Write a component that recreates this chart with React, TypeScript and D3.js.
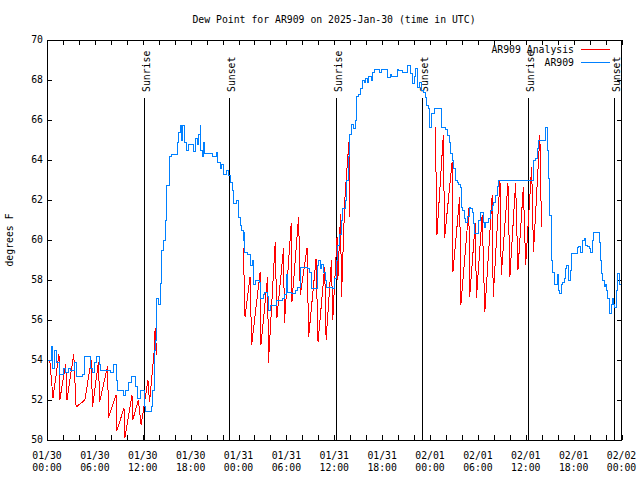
import * as d3 from 'd3';
import React from 'react';

// hours after 2025-01-30 00:00 UTC
const startMs = Date.UTC(2025, 0, 30);
const HOUR = 3600 * 1000;

const sunHours = [12.2, 22.87, 36.17, 47.01, 60.26, 71.05];
const sunLabels = ['Sunrise', 'Sunset', 'Sunrise', 'Sunset', 'Sunrise', 'Sunset'];

const yTicks = [50, 52, 54, 56, 58, 60, 62, 64, 66, 68, 70];

// AR909 Analysis (red), three runs
const analysisHours1 = [0.35, 0.75, 1.5, 1.6, 2.35, 2.5, 3.35, 3.65, 4.75, 5.55, 5.7, 6.45, 6.6, 7.6, 7.7, 8.65, 8.75, 9.65, 9.75, 10.65, 10.75, 11.45, 11.8, 12.65, 12.85, 13.45, 13.55, 13.75];
const analysisValues1 = [54.0, 52.1, 54.3, 52.0, 53.8, 52.0, 54.3, 51.65, 52.0, 54.0, 51.65, 53.9, 51.9, 53.7, 51.1, 52.25, 50.45, 51.6, 50.1, 52.25, 51.0, 52.0, 50.75, 53.0, 51.9, 54.5, 55.6, 54.25];

const analysisHours2 = [24.61, 24.82, 25.45, 25.65, 26.71, 26.81, 27.65, 27.75, 28.6, 28.81, 29.65, 29.75, 30.61, 30.7, 31.53, 31.75, 32.59, 32.79, 33.72, 33.97, 34.8, 34.98, 35.65, 35.81, 36.35, 36.45, 36.79, 36.91, 37.32, 37.83, 37.95];
const analysisValues2 = [59.6, 56.15, 58.15, 54.75, 58.4, 54.75, 58.15, 53.85, 59.9, 56.1, 59.6, 55.85, 60.85, 56.9, 61.15, 57.25, 59.6, 55.15, 59.05, 54.9, 58.65, 55.0, 59.0, 56.0, 60.15, 58.0, 61.3, 57.15, 62.0, 64.9, 61.15];

const analysisHours3 = [48.67, 48.87, 49.67, 49.83, 50.77, 50.87, 51.72, 51.87, 52.87, 52.97, 53.67, 53.82, 54.54, 54.87, 55.8, 55.92, 56.77, 56.93, 57.77, 58.01, 58.73, 59.02, 59.7, 59.99, 60.74, 60.97, 61.77, 61.97];
const analysisValues3 = [65.65, 60.25, 65.25, 60.1, 63.9, 58.4, 62.15, 56.75, 61.6, 57.15, 60.85, 57.1, 61.25, 56.4, 62.25, 57.15, 63.0, 58.25, 62.85, 58.15, 62.85, 58.5, 62.65, 58.75, 63.65, 59.4, 65.25, 60.65];

// AR909 station (blue)
const stationHours = [
  0.0, 0.38, 0.59, 0.71, 0.88, 1.22, 1.51, 2.05, 2.35, 2.65, 3.0, 3.45, 3.75, 4.45, 4.7, 5.2, 5.45, 5.75, 5.95, 6.15,
  6.55, 6.75, 8.0, 8.35, 8.65, 8.85, 9.55, 9.85, 10.25, 10.55, 10.95, 11.15, 11.35, 11.7, 12.2, 12.4, 13.05, 13.25, 13.45, 13.6,
  13.72, 13.95, 14.2, 14.4, 14.6, 14.8, 15.0, 15.35, 15.6, 16.3, 16.5, 16.7, 16.8, 17.0, 17.2, 17.5, 17.7, 18.4, 18.6, 18.8,
  19.0, 19.2, 19.3, 19.5, 19.6, 19.8, 20.8, 21.2, 21.4, 21.7, 21.9, 22.1, 22.5, 22.7, 23.0, 23.2, 23.4, 23.7, 24.0, 24.2,
  24.4, 24.6, 24.7, 24.8, 25.1, 25.5, 25.7, 25.9, 26.1, 26.6, 26.8, 27.1, 27.3, 27.6, 27.8, 28.0, 28.8, 29.5, 29.8, 30.05,
  30.15, 30.65, 31.15, 31.45, 31.75, 32.65, 32.85, 33.15, 33.75, 33.85, 34.05, 34.25, 34.45, 34.65, 34.85, 35.05, 35.75, 36.05, 36.25, 36.45,
  36.65, 36.85, 37.05, 37.35, 37.55, 37.75, 37.95, 38.15, 38.45, 38.65, 38.75, 38.85, 39.05, 39.35, 39.55, 39.75, 39.95, 40.15, 40.35, 40.65,
  40.85, 41.05, 41.7, 41.9, 42.5, 42.7, 43.0, 43.2, 43.8, 43.9, 44.1, 44.6, 45.0, 45.2, 45.5, 45.6, 45.8, 46.0, 46.2, 46.4,
  46.7, 46.9, 47.2, 47.4, 47.6, 47.8, 47.95, 48.2, 48.6, 49.3, 49.5, 50.0, 50.15, 50.4, 50.6, 50.8, 51.0, 51.2, 51.4, 51.6,
  51.8, 51.9, 52.1, 52.3, 52.5, 52.65, 52.9, 53.1, 53.3, 53.4, 53.6, 54.0, 54.1, 54.3, 54.5, 54.7, 54.85, 55.0, 55.3, 55.6,
  55.8, 56.0, 56.2, 56.4, 56.6, 60.8, 61.0, 61.25, 61.45, 61.65, 62.35, 62.45, 62.7, 62.9, 63.03, 63.2, 63.35, 63.55, 63.85, 63.95,
  64.05, 64.15, 64.25, 64.45, 64.65, 64.85, 65.0, 65.15, 65.3, 65.55, 65.65, 65.75, 66.25, 66.45, 66.65, 66.85, 67.1, 67.35, 67.55, 67.75,
  67.95, 68.15, 68.35, 68.55, 68.95, 69.2, 69.35, 69.5, 69.65, 69.85, 70.05, 70.15, 70.3, 70.45, 70.55, 70.7, 70.85, 70.95, 71.15, 71.35,
  71.55, 71.75, 71.95, 72.0,
];
const stationValues = [
  54.0, 54.0, 54.7, 53.6, 54.5, 53.9, 53.3, 53.6, 53.4, 53.6, 53.5, 53.9, 53.2, 53.3, 54.2, 54.2, 53.6, 53.4, 53.9, 54.2,
  53.8, 53.5, 53.4, 53.8, 53.0, 52.5, 52.25, 52.5, 52.9, 53.2, 53.2, 52.7, 52.1, 52.5, 51.7, 51.45, 51.7, 52.5, 54.5, 55.0,
  57.1, 56.8, 57.85, 59.5, 60.0, 61.0, 62.75, 64.2, 64.3, 64.9, 65.4, 65.75, 65.0, 65.75, 64.9, 64.5, 64.8, 64.45, 65.1, 64.8,
  65.3, 65.75, 64.5, 64.2, 64.9, 64.35, 64.2, 64.4, 63.9, 63.6, 63.8, 63.3, 63.5, 63.25, 62.9, 62.5, 61.85, 62.0, 61.15, 60.75,
  60.5, 60.0, 60.4, 59.4, 59.3, 58.75, 59.0, 57.8, 58.0, 57.9, 57.1, 57.3, 57.4, 57.2, 56.5, 56.75, 57.0, 57.1, 57.3, 58.3,
  57.4, 57.35, 57.5, 57.65, 58.65, 58.6, 58.4, 57.6, 57.6, 58.75, 59.0, 58.6, 58.8, 58.4, 58.0, 57.65, 57.6, 58.1, 59.0, 59.75,
  60.3, 61.0, 61.6, 62.0, 63.0, 64.2, 65.3, 65.8, 65.6, 66.0, 66.75, 67.2, 67.3, 67.6, 68.0, 67.9, 68.1, 67.9, 68.2, 68.0,
  68.4, 68.55, 68.4, 68.55, 68.55, 68.15, 68.3, 68.2, 68.2, 68.55, 68.5, 68.4, 68.4, 68.75, 68.7, 68.35, 67.85, 68.2, 68.6, 67.65,
  67.9, 67.5, 67.4, 67.15, 66.75, 66.6, 65.65, 66.35, 66.6, 66.6, 65.65, 65.55, 65.25, 64.9, 64.35, 64.0, 63.6, 63.0, 62.9, 62.8,
  62.65, 61.65, 61.5, 61.1, 60.9, 61.2, 61.65, 61.6, 61.4, 60.85, 60.35, 60.35, 61.0, 61.4, 61.4, 60.9, 60.65, 60.9, 61.1, 61.5,
  61.75, 61.9, 62.25, 62.7, 63.0, 63.0, 64.0, 64.1, 64.6, 65.0, 65.0, 65.65, 64.5, 63.1, 61.25, 59.0, 58.4, 57.8, 57.8, 58.3,
  58.0, 57.5, 57.35, 57.8, 57.9, 58.1, 58.6, 58.75, 58.0, 58.0, 58.5, 59.35, 59.35, 59.65, 59.7, 59.4, 60.0, 60.1, 59.75, 59.7,
  59.6, 59.4, 60.0, 60.4, 60.4, 59.9, 59.0, 58.35, 58.0, 57.7, 57.8, 57.5, 57.1, 56.75, 56.35, 56.8, 57.1, 56.8, 56.65, 57.5,
  58.35, 57.8, 57.35, 57.35,
];

const FONT = '"DejaVu Sans Mono", monospace';
const RED = '#ff0000';
const BLUE = '#0080ff';

function toDate(h: number) {
  return new Date(startMs + h * HOUR);
}

export default function App() {
  const W = 640;
  const H = 480;
  const left = 47;
  const right = 621.5;
  const top = 40;
  const bottom = 440;

  const x = d3.scaleUtc().domain([toDate(0), toDate(72)]).range([left, right]);
  const y = d3.scaleLinear().domain([50, 70]).range([bottom, top]);

  const line = d3
    .line<[number, number]>()
    .x((d) => x(toDate(d[0])))
    .y((d) => y(d[1]));
  const stepLine = d3
    .line<[number, number]>()
    .x((d) => x(toDate(d[0])))
    .y((d) => y(d[1]))
    .curve(d3.curveStepAfter);

  const zip = (hs: number[], vs: number[]) => hs.map((h, i) => [h, vs[i]] as [number, number]);
  const analysisRuns = [
    zip(analysisHours1, analysisValues1),
    zip(analysisHours2, analysisValues2),
    zip(analysisHours3, analysisValues3),
  ];
  const station = zip(stationHours, stationValues);

  const majorTicks = d3.utcHour.every(6)!.range(toDate(0), toDate(72.01));
  const minorTicks = d3.utcHour.every(2)!.range(toDate(0), toDate(72.01));
  const fmtDay = d3.utcFormat('%m/%d');
  const fmtTime = d3.utcFormat('%H:%M');
  const tl = 5;

  return (
    <svg
      width={W}
      height={H}
      style={{ position: 'absolute', left: 0, top: 0, background: '#fff' }}
      fontFamily={FONT}
      fontSize={9.8}
    >
      <rect width={W} height={H} fill="#fff" />
      <text x={334} y={23} textAnchor="middle">
        Dew Point for AR909 on 2025-Jan-30 (time in UTC)
      </text>

      {/* axes ticks, drawn inward on all four sides */}
      <g shapeRendering="crispEdges" stroke="#000">
        {yTicks.map((v) => (
          <g key={v}>
            <line x1={left} x2={left + tl} y1={Math.round(y(v)) + 0.5} y2={Math.round(y(v)) + 0.5} />
            <line x1={right - tl} x2={right} y1={Math.round(y(v)) + 0.5} y2={Math.round(y(v)) + 0.5} />
          </g>
        ))}
        {minorTicks.map((d, i) => {
          const px = Math.round(x(d)) + 0.5;
          return (
            <g key={i}>
              <line x1={px} x2={px} y1={bottom} y2={bottom - tl} />
              <line x1={px} x2={px} y1={top} y2={top + tl} />
            </g>
          );
        })}
      </g>
      {yTicks.map((v) => (
        <text key={v} x={43} y={y(v)} dy="0.35em" textAnchor="end">
          {v}
        </text>
      ))}
      {majorTicks.map((d, i) => (
        <text key={i} x={x(d)} y={459} textAnchor="middle">
          <tspan x={x(d)}>{fmtDay(d)}</tspan>
          <tspan x={x(d)} dy={12}>
            {fmtTime(d)}
          </tspan>
        </text>
      ))}
      <text transform="translate(13,240) rotate(-90)" textAnchor="middle">
        degrees F
      </text>

      {/* sunrise / sunset markers */}
      {sunHours.map((h, i) => {
        const px = Math.round(x(toDate(h))) + 0.5;
        return (
          <g key={i}>
            <line x1={px} x2={px} y1={98} y2={bottom} stroke="#000" shapeRendering="crispEdges" />
            <text transform={`translate(${px + 5},92) rotate(-90)`} textAnchor="start">
              {sunLabels[i]}
            </text>
          </g>
        );
      })}

      {/* data */}
      {analysisRuns.map((run, i) => (
        <path
          key={i}
          d={line(run) ?? ''}
          fill="none"
          stroke={RED}
          strokeWidth={1}
          shapeRendering="crispEdges"
        />
      ))}
      <path
        d={stepLine(station) ?? ''}
        fill="none"
        stroke={BLUE}
        strokeWidth={1}
        shapeRendering="crispEdges"
      />

      {/* legend */}
      <text x={574} y={53} textAnchor="end">
        AR909 Analysis
      </text>
      <rect x={581} y={49} width={29} height={1} fill={RED} />
      <text x={574} y={66} textAnchor="end">
        AR909
      </text>
      <rect x={581} y={62} width={29} height={1} fill={BLUE} />

      <rect
        x={left + 0.5}
        y={top + 0.5}
        width={right - left - 1}
        height={bottom - top}
        fill="none"
        stroke="#000"
        shapeRendering="crispEdges"
      />
    </svg>
  );
}
